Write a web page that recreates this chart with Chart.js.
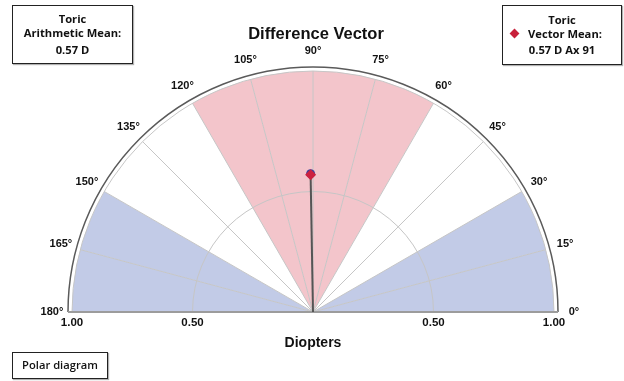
<!DOCTYPE html>
<html>
<head>
<meta charset="utf-8">
<script src="https://cdn.jsdelivr.net/npm/chart.js@4.4.0/dist/chart.umd.min.js"></script>
<style>
  body { margin: 0; background: #fff; }
  #wrap { position: relative; width: 624px; height: 381px; overflow: hidden; color: #111;
          font-family: "Liberation Sans", Arial, sans-serif; }
  #polar { position: absolute; left: 0; top: 0; }
  #title { position: absolute; left: 0; width: 632px; top: 23px; text-align: center;
           font-weight: bold; font-size: 16.5px; line-height: 20px; }
  .box { position: absolute; box-sizing: border-box; border: 1.5px solid #222; background: #fff;
         box-shadow: 1px 1px 1px rgba(0,0,0,0.3);
         font-family: "Open Sans", sans-serif; font-weight: 700; font-size: 11.2px; }
  .line { position: absolute; left: 0; right: 0; height: 16px; line-height: 16px; text-align: center; }
  .diamond { position: absolute; width: 7px; height: 7px; background: #c8203a; transform: rotate(45deg); }
</style>
</head>
<body>
<div id="wrap">
  <canvas id="polar" width="624" height="624"></canvas>
  <div id="title">Difference Vector</div>
  <div class="box" style="left:12px; top:5px; width:121px; height:59px;">
    <div class="line" style="top:4.5px;">Toric</div>
    <div class="line" style="top:18.5px;">Arithmetic Mean:</div>
    <div class="line" style="top:35.5px;">0.57 D</div>
  </div>
  <div class="box" style="left:502px; top:5px; width:120px; height:60px;">
    <div class="line" style="top:5.5px;">Toric</div>
    <div class="diamond" style="left:8px; top:24px;"></div>
    <div class="line" style="top:19.5px; left:6px;">Vector Mean:</div>
    <div class="line" style="top:35.5px;">0.57 D Ax 91</div>
  </div>
  <div class="box" style="left:12px; top:352px; width:96px; height:27px; font-weight:600;">
    <div class="line" style="top:3.5px;">Polar diagram</div>
  </div>
</div>
<script>
// angle labels, 180° on the left round to 0° on the right, every 15°
const angleLabels = ['180°', '165°', '150°', '135°', '120°', '105°', '90°', '75°', '60°', '45°', '30°', '15°', '0°'];
// one 15° sector per label gap, all reaching the 1.00 ring
const sectorValues = [1, 1, 1, 1, 1, 1, 1, 1, 1, 1, 1, 1];
const BLUE = '#c2cbe7', PINK = '#f3c5cb', WHITE = '#ffffff';
const sectorColors = [BLUE, BLUE, WHITE, WHITE, PINK, PINK, PINK, PINK, WHITE, WHITE, BLUE, BLUE];
const sectorAngle = 15;
// diopter rings and the labels along the baseline
const ringStep = 0.5;
const ringMax = 1;
const tickValues = [1, 0.5];
const tickLabels = ['1.00', '0.50'];
// difference vector: magnitude (D) and axis (deg)
const vectorMagnitude = 0.57;
const vectorAxis = 91;

// 24 slots so the angle lines fall every 15°; the lower half stays empty
const slotLabels = angleLabels.concat(new Array(11).fill(''));

function toXY(scale, value, deg) {
  const d = scale.getDistanceFromCenterForValue(value);
  const a = deg * Math.PI / 180;
  return { x: scale.xCenter + d * Math.cos(a), y: scale.yCenter - d * Math.sin(a) };
}

const polarDecor = {
  id: 'polarDecor',
  beforeDraw(chart) {
    // keep only the upper half of the polar grid
    const r = chart.scales.r;
    const ctx = chart.ctx;
    ctx.save();
    ctx.beginPath();
    ctx.rect(0, 0, chart.width, r.yCenter);
    ctx.clip();
  },
  afterDraw(chart) {
    const ctx = chart.ctx;
    ctx.restore();
    const r = chart.scales.r;
    const cx = r.xCenter, cy = r.yCenter;
    const rim = r.getDistanceFromCenterForValue(ringMax) + 4;

    ctx.save();
    // outer frame
    ctx.strokeStyle = '#5a5a5a';
    ctx.lineWidth = 1.5;
    ctx.beginPath();
    ctx.arc(cx, cy, rim, Math.PI, 2 * Math.PI);
    ctx.stroke();
    // baseline
    ctx.strokeStyle = '#9c9c9c';
    ctx.lineWidth = 2;
    ctx.beginPath();
    ctx.moveTo(cx - rim, cy);
    ctx.lineTo(cx + rim, cy);
    ctx.stroke();

    // vector
    const p = toXY(r, vectorMagnitude, vectorAxis);
    ctx.strokeStyle = '#555';
    ctx.lineWidth = 2;
    ctx.beginPath();
    ctx.moveTo(cx, cy);
    ctx.lineTo(p.x, p.y);
    ctx.stroke();
    ctx.fillStyle = '#3b3f9a';
    ctx.beginPath();
    ctx.arc(p.x, p.y - 1, 4.5, 0, 2 * Math.PI);
    ctx.fill();
    ctx.fillStyle = '#cc2140';
    ctx.beginPath();
    ctx.moveTo(p.x, p.y - 5.5);
    ctx.lineTo(p.x + 5.5, p.y);
    ctx.lineTo(p.x, p.y + 5.5);
    ctx.lineTo(p.x - 5.5, p.y);
    ctx.closePath();
    ctx.fill();

    // angle labels
    ctx.fillStyle = '#111';
    ctx.textAlign = 'center';
    ctx.textBaseline = 'middle';
    ctx.font = 'bold 11px "Liberation Sans", Arial, sans-serif';
    const labelDist = rim + 16;
    angleLabels.forEach((lab, i) => {
      const a = (180 - i * sectorAngle) * Math.PI / 180;
      ctx.fillText(lab, cx + labelDist * Math.cos(a), cy - labelDist * Math.sin(a));
    });

    // diopter labels under the baseline
    ctx.font = 'bold 11.5px "Liberation Sans", Arial, sans-serif';
    tickValues.forEach((v, i) => {
      const d = r.getDistanceFromCenterForValue(v);
      ctx.fillText(tickLabels[i], cx - d, cy + 11);
      ctx.fillText(tickLabels[i], cx + d, cy + 11);
    });
    ctx.font = 'bold 14px "Liberation Sans", Arial, sans-serif';
    ctx.fillText('Diopters', cx, cy + 31);
    ctx.restore();
  }
};

new Chart(document.getElementById('polar'), {
  type: 'polarArea',
  data: {
    labels: slotLabels,
    datasets: [{
      data: sectorValues,
      backgroundColor: sectorColors,
      borderWidth: 0,
      angle: sectorAngle
    }]
  },
  options: {
    responsive: false,
    animation: false,
    layout: { padding: { left: 72, right: 70, top: 71, bottom: 71 } },
    plugins: { legend: { display: false }, tooltip: { enabled: false } },
    scales: {
      r: {
        min: 0,
        max: ringMax,
        startAngle: -90,
        ticks: { display: false, stepSize: ringStep },
        pointLabels: { display: false },
        grid: { z: 1, circular: true, color: '#c6c6c6', lineWidth: 1 },
        angleLines: { display: true, color: '#c6c6c6', lineWidth: 1 }
      }
    }
  },
  plugins: [polarDecor]
});
</script>
</body>
</html>
